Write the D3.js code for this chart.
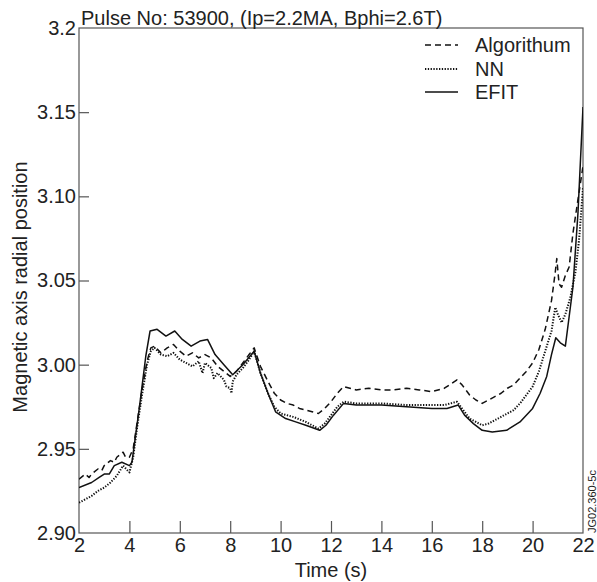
<!DOCTYPE html>
<html>
<head>
<meta charset="utf-8">
<script src="https://cdn.jsdelivr.net/npm/d3@7"></script>
<style>
  html, body { margin: 0; padding: 0; background: #fff; }
  svg { display: block; font-family: "Liberation Sans", Arial, sans-serif; }
</style>
</head>
<body>
<svg id="chart" width="597" height="582"></svg>
<script>
// ---- Data ----
const title = "Pulse No: 53900, (Ip=2.2MA, Bphi=2.6T)";
const xLabel = "Time (s)";
const yLabel = "Magnetic axis radial position";
const figId = "JG02.360-5c";
const seriesNames = ["Algorithum", "NN", "EFIT"];
const xTicks = [2, 4, 6, 8, 10, 12, 14, 16, 18, 20, 22];
const yTicks = [2.90, 2.95, 3.00, 3.05, 3.10, 3.15, 3.2];
const yTickLabels = ["2.90", "2.95", "3.00", "3.05", "3.10", "3.15", "3.2"];

const algorithm = [
  [2.0,2.932],[2.25,2.935],[2.4,2.933],[2.5,2.935],[2.75,2.938],[2.9,2.937],[3.0,2.940],[3.25,2.943],[3.4,2.942],[3.5,2.945],[3.75,2.948],[3.85,2.945],[4.0,2.945],
  [4.15,2.950],[4.3,2.965],[4.5,2.985],[4.7,3.002],[4.85,3.010],[5.0,3.011],[5.25,3.007],[5.5,3.010],[5.75,3.012],
  [6.0,3.008],[6.25,3.005],[6.5,3.007],[6.75,3.004],[7.0,3.006],[7.25,3.004],[7.5,2.999],[7.75,2.996],[8.0,2.993],
  [8.25,2.996],[8.5,3.001],[8.75,3.006],[8.95,3.010],[9.2,2.999],[9.5,2.990],[9.75,2.983],[10.0,2.979],[10.25,2.977],
  [10.5,2.976],[10.75,2.974],[11.0,2.973],[11.25,2.972],[11.5,2.971],[11.75,2.974],[12.0,2.978],[12.25,2.983],
  [12.5,2.987],[12.75,2.986],[13.0,2.985],[13.5,2.986],[14.0,2.985],[14.5,2.985],[15.0,2.986],[15.5,2.985],
  [16.0,2.984],[16.5,2.986],[16.8,2.989],[17.0,2.991],[17.2,2.988],[17.5,2.982],[17.75,2.979],[18.0,2.977],
  [18.25,2.979],[18.5,2.981],[18.75,2.983],[19.0,2.986],[19.25,2.988],[19.5,2.992],[19.75,2.996],[20.0,3.001],
  [20.25,3.009],[20.5,3.021],[20.75,3.038],[20.9,3.055],[20.96,3.063],[21.05,3.048],[21.15,3.046],[21.3,3.053],
  [21.45,3.058],[21.6,3.078],[21.8,3.098],[22.0,3.118]
];
const nn = [
  [2.0,2.918],[2.25,2.920],[2.5,2.922],[2.75,2.925],[3.0,2.927],[3.25,2.930],[3.5,2.934],[3.75,2.940],[4.0,2.936],
  [4.15,2.945],[4.3,2.962],[4.5,2.982],[4.7,3.000],[4.85,3.008],[5.0,3.010],[5.25,3.006],[5.5,3.005],[5.75,3.007],
  [6.0,3.003],[6.25,3.001],[6.5,2.999],[6.75,3.002],[6.9,2.995],[7.0,3.001],[7.25,2.998],[7.35,2.992],[7.5,2.995],
  [7.75,2.991],[7.85,2.987],[8.0,2.986],[8.05,2.983],[8.1,2.990],[8.25,2.994],[8.5,2.998],[8.75,3.003],[8.95,3.008],
  [9.2,2.995],[9.5,2.983],[9.75,2.975],[10.0,2.971],
  [10.5,2.969],[11.0,2.966],[11.5,2.962],[11.75,2.965],[12.0,2.970],[12.25,2.975],[12.5,2.978],[13.0,2.977],
  [14.0,2.977],[15.0,2.976],[16.0,2.976],[16.5,2.976],[17.0,2.978],[17.3,2.972],[17.5,2.968],[17.75,2.966],
  [18.0,2.964],[18.25,2.965],[18.5,2.967],[18.75,2.969],[19.0,2.971],[19.25,2.973],[19.5,2.977],[19.75,2.982],
  [20.0,2.987],[20.25,2.996],[20.5,3.008],[20.75,3.020],[20.9,3.034],[21.0,3.030],[21.15,3.025],[21.3,3.030],
  [21.5,3.040],[21.7,3.055],[21.85,3.075],[22.0,3.105]
];
const efit = [
  [2.0,2.927],[2.5,2.930],[2.8,2.933],[3.0,2.935],[3.2,2.935],[3.4,2.940],[3.7,2.942],[4.0,2.940],[4.1,2.942],
  [4.4,2.975],[4.65,3.005],[4.82,3.020],[5.1,3.021],[5.45,3.017],[5.8,3.020],[6.1,3.015],[6.45,3.011],[6.8,3.014],
  [7.1,3.015],[7.4,3.006],[7.75,3.000],[8.1,2.994],[8.5,3.000],[8.95,3.008],[9.2,2.995],[9.5,2.983],[9.8,2.972],
  [10.2,2.968],[10.6,2.966],[11.0,2.964],[11.55,2.961],[11.8,2.964],[12.1,2.970],[12.5,2.977],[13.0,2.976],
  [14.0,2.976],[15.0,2.975],[16.0,2.974],[16.6,2.974],[17.05,2.976],[17.3,2.970],[17.65,2.965],[18.0,2.961],
  [18.4,2.960],[18.97,2.961],[19.5,2.966],[20.0,2.974],[20.3,2.983],[20.56,2.993],[20.75,3.006],[20.92,3.016],
  [21.1,3.013],[21.3,3.011],[21.6,3.046],[21.8,3.090],[22.0,3.153]
];

// ---- Layout ----
const svg = d3.select("#chart");
const m = { left: 79, right: 583, top: 28, bottom: 533 };
const x = d3.scaleLinear().domain([2, 22]).range([m.left, m.right]);
const y = d3.scaleLinear().domain([2.9, 3.2]).range([m.bottom, m.top]);
const axisColor = "#555";
const textColor = "#222";
const fontSize = 20;

// frame
svg.append("rect")
  .attr("x", m.left).attr("y", m.top)
  .attr("width", m.right - m.left).attr("height", m.bottom - m.top)
  .attr("fill", "none").attr("stroke", axisColor).attr("stroke-width", 1.2);

// x axis (ticks pointing inward)
const xAxis = d3.axisBottom(x).tickValues(xTicks).tickSize(-12).tickPadding(5)
  .tickFormat(d3.format("d"));
const gx = svg.append("g").attr("transform", `translate(0,${m.bottom})`).call(xAxis);
gx.select(".domain").remove();
gx.selectAll(".tick line").attr("stroke", axisColor).attr("stroke-width", 1.2)
  .filter(d => d === 2 || d === 22).remove();
gx.selectAll(".tick text").attr("fill", textColor).attr("font-size", fontSize)
  .attr("font-family", "Liberation Sans, Arial, sans-serif").attr("dy", "0.72em");

// y axis (ticks pointing inward)
const yAxis = d3.axisLeft(y).tickValues(yTicks).tickSize(-10).tickPadding(3)
  .tickFormat((d, i) => yTickLabels[i]);
const gy = svg.append("g").attr("transform", `translate(${m.left},0)`).call(yAxis);
gy.select(".domain").remove();
gy.selectAll(".tick line").attr("stroke", axisColor).attr("stroke-width", 1.2)
  .filter(d => d === 2.9 || d === 3.2).remove();
gy.selectAll(".tick text").attr("fill", textColor).attr("font-size", fontSize)
  .attr("font-family", "Liberation Sans, Arial, sans-serif");

// lines
const line = d3.line().x(d => x(d[0])).y(d => y(d[1]));
const styles = [
  { data: algorithm, dash: "6,4", width: 1.5 },
  { data: nn, dash: "1.3,1.5", width: 2 },
  { data: efit, dash: null, width: 1.5 }
];
const plot = svg.append("g");
plot.append("clipPath").attr("id", "clip").append("rect")
  .attr("x", m.left).attr("y", m.top - 2).attr("width", m.right - m.left).attr("height", m.bottom - m.top + 2);
styles.forEach(s => {
  plot.append("path").datum(s.data)
    .attr("d", line)
    .attr("fill", "none").attr("stroke", "#111")
    .attr("stroke-width", s.width)
    .attr("stroke-dasharray", s.dash)
    .attr("stroke-linejoin", "round")
    .attr("clip-path", "url(#clip)");
});

// legend
const leg = svg.append("g");
const legY = [45, 69, 92];
seriesNames.forEach((name, i) => {
  leg.append("line")
    .attr("x1", 425).attr("x2", 458).attr("y1", legY[i]).attr("y2", legY[i])
    .attr("stroke", "#111").attr("stroke-width", styles[i].width)
    .attr("stroke-dasharray", styles[i].dash);
  leg.append("text").attr("x", 475).attr("y", legY[i]).attr("dy", "0.35em")
    .attr("font-size", fontSize).attr("fill", textColor).text(name);
});

// title
svg.append("text").attr("x", 81).attr("y", 25)
  .attr("font-size", fontSize).attr("fill", textColor).text(title);

// x label
svg.append("text").attr("x", (m.left + m.right) / 2).attr("y", 577)
  .attr("text-anchor", "middle").attr("font-size", fontSize).attr("fill", textColor).text(xLabel);

// y label
svg.append("text")
  .attr("transform", `translate(27,287) rotate(-90)`)
  .attr("text-anchor", "middle").attr("font-size", fontSize).attr("fill", textColor).text(yLabel);

// figure id
svg.append("text")
  .attr("transform", `translate(596,${m.bottom}) rotate(-90)`)
  .attr("text-anchor", "start").attr("font-size", 11).attr("fill", textColor).text(figId);
</script>
</body>
</html>
